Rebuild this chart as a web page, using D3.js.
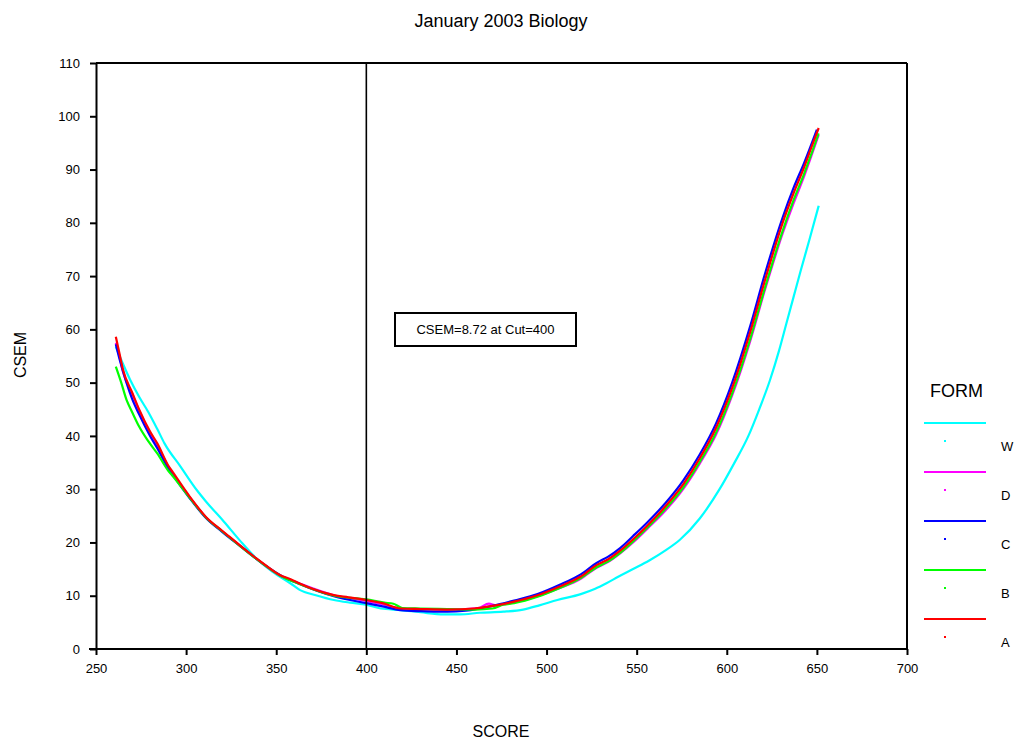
<!DOCTYPE html>
<html>
<head>
<meta charset="utf-8">
<script src="https://cdn.jsdelivr.net/npm/d3@7"></script>
<style>
  html, body { margin: 0; padding: 0; background: #fff; }
  svg { display: block; font-family: "Liberation Sans", Arial, sans-serif; }
</style>
</head>
<body>
<svg id="chart" width="1018" height="742"></svg>
<script>
// ---- data ----
const title = "January 2003 Biology";
const xLabel = "SCORE";
const yLabel = "CSEM";
const legendTitle = "FORM";
const annotationText = "CSEM=8.72 at Cut=400";
const cutScore = 400;
const xTicks = [250, 300, 350, 400, 450, 500, 550, 600, 650, 700];
const yTicks = [0, 10, 20, 30, 40, 50, 60, 70, 80, 90, 100, 110];
const forms = ["W", "D", "C", "B", "A"];
const formColors = ["#00ffff", "#ff00ff", "#0000ff", "#00ff00", "#ff0000"];

const formW = [[261,56.7],[265,53.5],[269,50.5],[274,47.3],[279,44.5],[284,41.3],[288,38.6],[297,34.2],[306,29.8],[311,27.7],[321,23.9],[330,20.3],[339,17.0],[348,14.5],[358,12.3],[363,11.1],[372,10.1],[382,9.2],[391,8.7],[400,8.3],[408,7.6],[419,7.3],[430,6.9],[443,6.5],[452,6.5],[463,6.8],[476,7.0],[487,7.4],[496,8.2],[506,9.2],[519,10.3],[527,11.3],[533,12.3],[540,13.6],[548,15.0],[557,16.6],[566,18.5],[574,20.5],[585,24.5],[596,30.0],[604,34.8],[612,40.0],[618,45.0],[624,50.5],[629,56.0],[633,61.0],[637,66.0],[641,71.0],[646,77.0],[651,83.2]];
const formD = [[261,57.5],[263,55.0],[265,52.0],[270,48.0],[274,44.7],[280,40.6],[284,38.4],[290,34.3],[293,32.8],[302,28.5],[311,24.7],[320,22.1],[330,19.4],[339,16.9],[352,13.8],[363,12.3],[382,10.1],[400,9.0],[409,8.4],[419,7.6],[430,7.5],[445,7.4],[462,7.7],[468,8.5],[472,8.2],[482,8.8],[495,9.9],[507,11.4],[519,13.2],[528,15.3],[534,16.3],[541,18.0],[548,20.0],[556,22.6],[566,26.0],[576,30.1],[585,34.8],[594,40.2],[603,47.6],[613,57.8],[621,67.2],[631,78.0],[637,83.6],[643,88.8],[647,92.6],[651,96.5]];
const formC = [[261,57.2],[263,54.5],[267,49.9],[270,47.0],[274,44.0],[280,40.0],[284,37.7],[290,34.0],[293,32.5],[302,28.3],[311,24.6],[320,22.0],[330,19.3],[339,16.9],[352,13.9],[363,12.2],[382,9.9],[400,8.6],[409,8.0],[419,7.3],[430,7.1],[445,7.0],[455,7.2],[470,8.1],[482,9.1],[495,10.3],[507,12.0],[519,14.0],[528,16.2],[534,17.3],[541,19.0],[548,21.2],[556,23.8],[566,27.4],[576,31.7],[585,36.5],[594,42.3],[603,50.0],[613,60.6],[621,70.2],[631,81.0],[637,86.5],[643,91.3],[650,97.5]];
const formB = [[261,53.0],[264,50.0],[267,46.7],[270,44.5],[274,41.7],[279,39.0],[284,36.7],[290,33.5],[293,32.3],[302,28.4],[311,24.7],[320,22.1],[330,19.3],[339,16.9],[352,13.8],[363,12.2],[382,10.0],[400,9.3],[410,8.7],[415,8.5],[420,7.7],[430,7.6],[445,7.5],[460,7.4],[470,7.6],[476,8.3],[482,8.6],[495,9.8],[507,11.4],[519,13.3],[528,15.4],[534,16.4],[541,18.1],[548,20.2],[556,22.8],[566,26.3],[576,30.4],[585,35.1],[594,40.6],[603,48.0],[613,58.2],[621,67.6],[631,78.5],[637,84.2],[643,89.3],[647,93.0],[651,96.8]];
const formA = [[261,58.6],[263,55.5],[265,52.4],[270,48.2],[274,44.9],[280,40.8],[284,38.6],[290,34.5],[293,33.0],[302,28.6],[311,24.8],[320,22.2],[324,21.1],[330,19.4],[339,17.0],[345,15.5],[352,13.9],[358,13.1],[363,12.3],[370,11.3],[382,10.1],[390,9.7],[400,9.2],[409,8.6],[419,7.6],[430,7.5],[445,7.4],[460,7.6],[470,8.1],[482,8.9],[495,10.1],[507,11.7],[519,13.6],[528,15.8],[534,16.8],[541,18.5],[548,20.6],[556,23.2],[566,26.8],[576,31.0],[585,35.8],[594,41.5],[603,49.0],[613,59.5],[621,69.0],[631,80.0],[637,85.5],[643,90.5],[647,94.2],[651,97.8]];
const formSeries = [formW, formD, formC, formB, formA];

// ---- layout ----
const svg = d3.select("#chart");
const plot = { left: 96, top: 63, right: 907, bottom: 649 };

const x = d3.scaleLinear().domain([250, 700]).range([plot.left, plot.right]);
const y = d3.scaleLinear().domain([0, 110]).range([plot.bottom, plot.top]);

svg.append("rect").attr("width", 1018).attr("height", 742).attr("fill", "#fff");

// title
svg.append("text").attr("x", 501).attr("y", 27).attr("text-anchor", "middle")
  .attr("font-size", 18).text(title);

// series lines
const line = d3.line().x(d => x(d[0])).y(d => y(d[1])).curve(d3.curveMonotoneX);
const gLines = svg.append("g");
formSeries.forEach((s, i) => {
  gLines.append("path").datum(s).attr("d", line)
    .attr("fill", "none").attr("stroke", formColors[i]).attr("stroke-width", 2.2)
    .attr("stroke-linejoin", "miter");
});

// frame (top & right)
svg.append("line").attr("x1", plot.left).attr("x2", plot.right).attr("y1", plot.top).attr("y2", plot.top)
  .attr("stroke", "#000").attr("stroke-width", 2);
svg.append("line").attr("x1", plot.right).attr("x2", plot.right).attr("y1", plot.top).attr("y2", plot.bottom)
  .attr("stroke", "#000").attr("stroke-width", 2);

// axes
const xAxis = d3.axisBottom(x).tickValues(xTicks).tickSize(6).tickPadding(9).tickSizeOuter(0);
const gx = svg.append("g").attr("transform", `translate(0,${plot.bottom})`).call(xAxis);
gx.select(".domain").attr("stroke-width", 2).attr("d", `M${plot.left - 7},0H${plot.right}`);
gx.selectAll(".tick line").attr("stroke-width", 2);
gx.selectAll(".tick text").attr("font-size", 13).attr("font-family", "Liberation Sans, Arial, sans-serif").attr("fill", "#000");

const yAxis = d3.axisLeft(y).tickValues(yTicks).tickSize(6).tickPadding(10).tickSizeOuter(0);
const gy = svg.append("g").attr("transform", `translate(${plot.left},0)`).call(yAxis);
gy.select(".domain").attr("stroke-width", 2);
gy.selectAll(".tick line").attr("stroke-width", 2);
gy.selectAll(".tick text").attr("font-size", 13).attr("font-family", "Liberation Sans, Arial, sans-serif").attr("fill", "#000");

// axis titles
svg.append("text").attr("x", 501).attr("y", 737).attr("text-anchor", "middle")
  .attr("font-size", 16).text(xLabel);
svg.append("text").attr("transform", `translate(26,355) rotate(-90)`).attr("text-anchor", "middle")
  .attr("font-size", 16).text(yLabel);

// cut line
svg.append("line").attr("x1", x(cutScore)).attr("x2", x(cutScore))
  .attr("y1", plot.top).attr("y2", plot.bottom).attr("stroke", "#000").attr("stroke-width", 1.6);

// annotation
svg.append("rect").attr("x", 395).attr("y", 313).attr("width", 181).attr("height", 33)
  .attr("fill", "#fff").attr("stroke", "#000").attr("stroke-width", 2);
svg.append("text").attr("x", 485.5).attr("y", 334).attr("text-anchor", "middle")
  .attr("font-size", 13).text(annotationText);

// legend
svg.append("text").attr("x", 930).attr("y", 397).attr("font-size", 18).text(legendTitle);
const legendY0 = 423, legendStep = 49;
forms.forEach((f, i) => {
  const ly = legendY0 + i * legendStep;
  svg.append("line").attr("x1", 924).attr("x2", 986).attr("y1", ly).attr("y2", ly)
    .attr("stroke", formColors[i]).attr("stroke-width", 2);
  svg.append("rect").attr("x", 944).attr("y", ly + 17).attr("width", 2).attr("height", 2)
    .attr("fill", formColors[i]);
  svg.append("text").attr("x", 1001).attr("y", ly + 28).attr("font-size", 13).text(f);
});
</script>
</body>
</html>
